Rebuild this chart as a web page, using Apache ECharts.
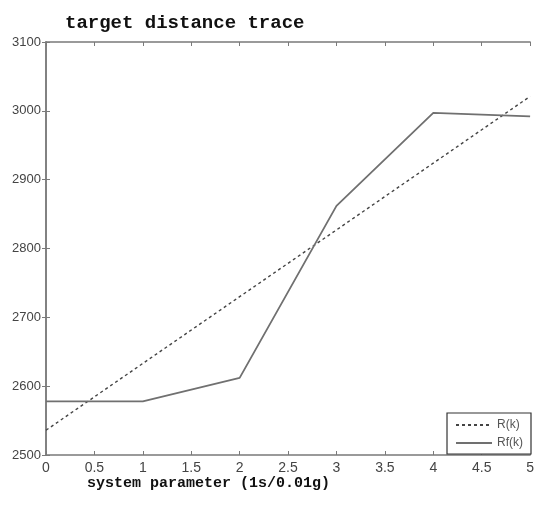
<!DOCTYPE html>
<html>
<head>
    <meta charset="utf-8" />
    <script type="text/javascript" src="https://cdn.jsdelivr.net/npm/echarts@6.0.0/dist/echarts.min.js"></script>
    <style>
      body { margin: 0; background: #fff; }
      #container { width: 537px; height: 505px; }
    </style>
</head>
<body>
<div id="container"></div>
<script>
// data
var xs = [0, 1, 2, 3, 4, 5];
var rValues = [2536, 2633, 2730, 2827, 2924, 3021];   // R(k), dashed
var rfValues = [2578, 2578, 2612, 2862, 2997, 2992];  // Rf(k), solid

function pairs(vals) {
  return xs.map(function (x, i) { return [x, vals[i]]; });
}

var axisGray = '#7a7a7a';
var myChart = echarts.init(document.getElementById('container'));

var frameAxis = {
  type: 'value',
  axisLine: { show: true, lineStyle: { color: axisGray, width: 1.5 } },
  axisTick: { show: true, inside: true, length: 4, lineStyle: { color: axisGray } },
  splitLine: { show: false }
};

var option = {
  animation: false,
  title: [
    {
      text: 'target distance trace',
      left: 60, top: 9,
      textStyle: { fontFamily: 'Liberation Mono', fontSize: 19, fontWeight: 'bold', color: '#111' }
    },
    {
      text: 'system parameter (1s/0.01g)',
      left: 82, top: 471,
      textStyle: { fontFamily: 'Liberation Mono', fontSize: 15, fontWeight: 'bold', color: '#111' }
    }
  ],
  grid: { left: 46, right: 5, top: 42, bottom: 50 },
  legend: {
    orient: 'vertical',
    right: 6, bottom: 51,
    itemWidth: 36, itemHeight: 10, itemGap: 6,
    padding: [6, 8, 5, 8],
    borderColor: '#333', borderWidth: 1.2, borderRadius: 0,
    backgroundColor: '#fff',
    itemStyle: { opacity: 0 },
    textStyle: { fontFamily: 'Liberation Sans', fontSize: 12, color: '#555' },
    data: ['R(k)', 'Rf(k)']
  },
  xAxis: [
    Object.assign({}, frameAxis, {
      min: 0, max: 5, interval: 0.5,
      axisLabel: { fontFamily: 'Liberation Sans', fontSize: 14, color: '#444', margin: 6 }
    }),
    Object.assign({}, frameAxis, {
      position: 'top', min: 0, max: 5, interval: 0.5,
      axisLabel: { show: false }
    })
  ],
  yAxis: [
    Object.assign({}, frameAxis, {
      min: 2500, max: 3100, interval: 100,
      axisLabel: {
        fontFamily: 'Liberation Sans', fontSize: 13, color: '#444', margin: 5,
        formatter: function (v) { return String(v); }
      }
    }),
    Object.assign({}, frameAxis, {
      position: 'right', min: 2500, max: 3100, interval: 100,
      axisLabel: { show: false }
    })
  ],
  series: [
    {
      name: 'R(k)',
      type: 'line',
      symbol: 'none',
      data: pairs(rValues),
      lineStyle: { color: '#444', width: 1.4, type: [3, 3] },
      itemStyle: { color: '#444' }
    },
    {
      name: 'Rf(k)',
      type: 'line',
      symbol: 'none',
      data: pairs(rfValues),
      lineStyle: { color: '#707070', width: 1.8 },
      itemStyle: { color: '#707070' }
    }
  ]
};

myChart.setOption(option);
</script>
</body>
</html>
